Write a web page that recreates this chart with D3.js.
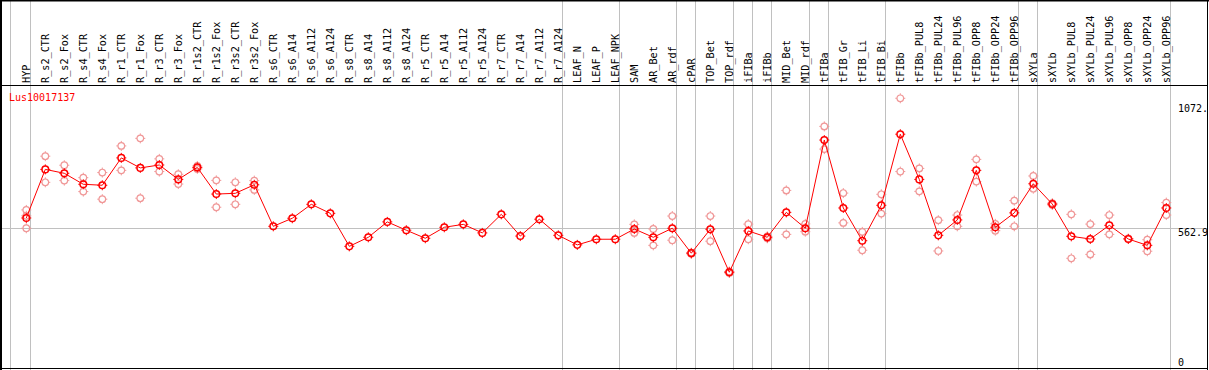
<!DOCTYPE html>
<html><head><meta charset="utf-8">
<script src="https://cdn.jsdelivr.net/npm/d3@7"></script>
<style>html,body{margin:0;padding:0;background:#fff;}svg{display:block;}</style>
</head><body>
<script>
const categories = ["HYP","R_s2_CTR","R_s2_Fox","R_s4_CTR","R_s4_Fox","R_r1_CTR","R_r1_Fox","R_r3_CTR","R_r3_Fox","R_r1s2_CTR","R_r1s2_Fox","R_r3s2_CTR","R_r3s2_Fox","R_s6_CTR","R_s6_A14","R_s6_A112","R_s6_A124","R_s8_CTR","R_s8_A14","R_s8_A112","R_s8_A124","R_r5_CTR","R_r5_A14","R_r5_A112","R_r5_A124","R_r7_CTR","R_r7_A14","R_r7_A112","R_r7_A124","LEAF_N","LEAF_P","LEAF_NPK","SAM","AR_Bet","AR_rdf","cPAR","TOP_Bet","TOP_rdf","iFIBa","iFIBb","MID_Bet","MID_rdf","tFIBa","tFIB_Gr","tFIB_Li","tFIB_Bi","tFIBb","tFIBb_PUL8","tFIBb_PUL24","tFIBb_PUL96","tFIBb_OPP8","tFIBb_OPP24","tFIBb_OPP96","sXYLa","sXYLb","sXYLb_PUL8","sXYLb_PUL24","sXYLb_PUL96","sXYLb_OPP8","sXYLb_OPP24","sXYLb_OPP96"];
const means = [605,804,788,743,739,851,810,822,763,812,703,706,741,571,604,661,624,489,526,589,555,522,567,579,544,620,531,600,534,495,518,518,560,526,563,461,559,383,552,526,628,563,924,646,512,657,948,763,534,597,800,567,626,745,662,530,519,575,519,493,646];
const reps = [[638,563,614],[858,751],[821,758],[770,713],[791,682],[900,800],[931,686],[847,795],[784,744],[818,806],[759,649],[751,661],[758,720],
[],[],[],[],[],[],[],[],[],[],[],[],[],[],[],[],[],[],[],
[579,544],[560,493],[613,514],[463,458],[613,510],[386,380],[580,518],[530,522],[718,538],[581,549],[980,887],[707,585],[548,473],[702,623],[1095,795],[808,714],[596,470],[617,571],[845,754],[581,553],[676,571],[777,725],[666,658],[620,440],[580,456],[617,538],[521],[516,469],[668,617]];
const groupEnds = [-1,0,28,31,34,35,37,38,39,41,42,45,52,53,60];
const tickValues = [0, 562.9, 1072];
const tickLabels = ["0", "562.9", "1072."];
const geneName = "Lus10017137";

const W = 1209, H = 370;
const svg = d3.select("body").append("svg").attr("width", W).attr("height", H);
svg.append("rect").attr("width", W).attr("height", H).attr("fill", "#fff");

const x = d3.scaleBand().domain(categories).range([16.8, 16.8 + 19 * categories.length]);
const cx = c => x(c) + x.bandwidth() / 2;
const cxi = i => x(categories[0]) + x.bandwidth() / 2 + 19 * i;
const y = d3.scaleLinear().domain([0, 1072]).range([365.8, 103.9]);

const font = "'DejaVu Sans Mono', monospace";

// vertical group separators
svg.append("g").selectAll("line").data(groupEnds).join("line")
  .attr("x1", i => Math.floor(cxi(i) + 4) + 0.5 - (i < 0 ? 1 : 0))
  .attr("x2", i => Math.floor(cxi(i) + 4) + 0.5 - (i < 0 ? 1 : 0))
  .attr("y1", 0).attr("y2", H)
  .attr("stroke", "#c0c0c0").attr("stroke-width", 1);

// horizontal reference line
svg.append("line")
  .attr("x1", 0).attr("x2", 1207)
  .attr("y1", Math.round(y(562.9)) + 0.5).attr("y2", Math.round(y(562.9)) + 0.5)
  .attr("stroke", "#c0c0c0").attr("stroke-width", 1);

// borders
svg.append("line").attr("x1", 0).attr("x2", W).attr("y1", 0.75).attr("y2", 0.75).attr("stroke", "#000").attr("stroke-width", 1.5);
svg.append("line").attr("x1", 0).attr("x2", 1207).attr("y1", 85.5).attr("y2", 85.5).attr("stroke", "#000").attr("stroke-width", 1);
svg.append("line").attr("x1", 1).attr("x2", 1).attr("y1", 0).attr("y2", H).attr("stroke", "#000").attr("stroke-width", 2);
svg.append("line").attr("x1", 1207.5).attr("x2", 1207.5).attr("y1", 0).attr("y2", H).attr("stroke", "#000").attr("stroke-width", 1);
svg.append("line").attr("x1", 0).attr("x2", 1208).attr("y1", 368.5).attr("y2", 368.5).attr("stroke", "#000").attr("stroke-width", 1);

// column labels
svg.append("g").selectAll("text").data(categories).join("text")
  .attr("transform", c => `translate(${Math.round(cx(c) + 3.5)},83) rotate(-90)`)
  .attr("font-family", font).attr("font-size", "10.2px").attr("fill", "#000")
  .text(c => c);

// right axis labels
const yAxis = svg.append("g");
yAxis.selectAll("text").data(tickValues).join("text")
  .attr("x", 1178)
  .attr("y", (v, i) => i === 0 ? 366 : Math.round(y(v) + 8))
  .attr("font-family", font).attr("font-size", "10px").attr("fill", "#000")
  .text((v, i) => tickLabels[i]);

// gene name
svg.append("text").attr("x", 9).attr("y", 101).attr("font-family", font)
  .attr("font-size", "10px").attr("fill", "#ff0000").text(geneName);

// marker drawing
function marker(g, color, sw) {
  g.append("circle").attr("r", 3.3).attr("fill", "none").attr("stroke", color).attr("stroke-width", sw);
  const t = [[0,-3.3,0,-5],[0,3.3,0,5],[-3.3,0,-5,0],[3.3,0,5,0]];
  t.forEach(d => g.append("line").attr("x1", d[0]).attr("y1", d[1]).attr("x2", d[2]).attr("y2", d[3])
    .attr("stroke", color).attr("stroke-width", 1));
}

// replicates
const repPts = [];
reps.forEach((arr, i) => arr.forEach(v => repPts.push({c: categories[i], v})));
svg.append("g").selectAll("g").data(repPts).join("g")
  .attr("transform", d => `translate(${cx(d.c)},${y(d.v)})`)
  .each(function() { marker(d3.select(this), "#f09898", 1.2); });

// mean line
const line = d3.line().x((d, i) => cx(categories[i])).y(d => y(d));
svg.append("path").datum(means).attr("d", line).attr("fill", "none")
  .attr("stroke", "#ff0000").attr("stroke-width", 1);

// mean markers
svg.append("g").selectAll("g").data(means).join("g")
  .attr("transform", (d, i) => `translate(${cx(categories[i])},${y(d)})`)
  .each(function() { marker(d3.select(this), "#ff0000", 1.5); });
</script>
</body></html>
